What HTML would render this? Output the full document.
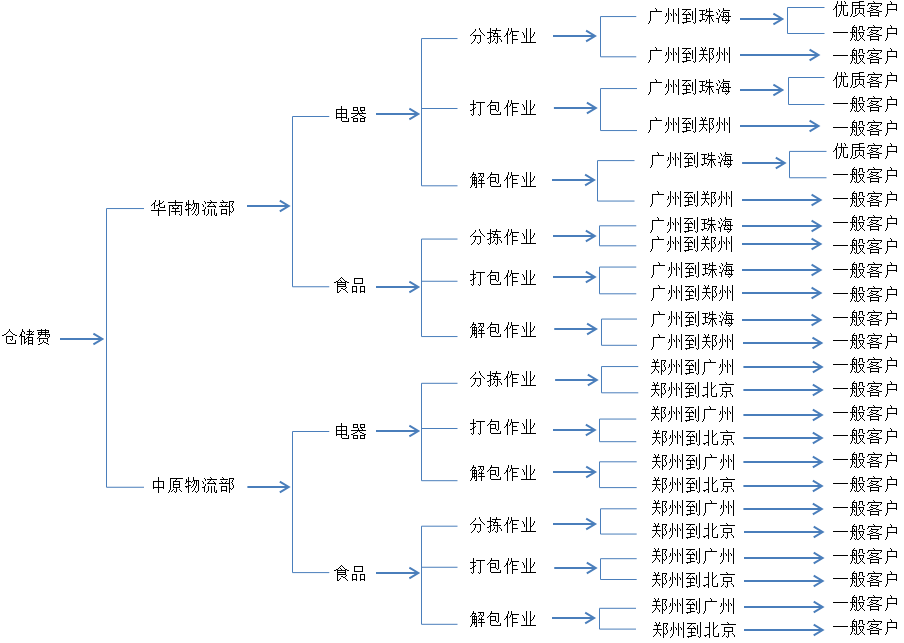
<!DOCTYPE html>
<html lang="zh"><head><meta charset="utf-8"><title>仓储费</title>
<style>html,body{margin:0;padding:0;background:#fff;font-family:"Liberation Sans",sans-serif}svg{display:block}</style></head><body>
<svg width="904" height="643" viewBox="0 0 904 643">
<defs>
<path id="u4e00" d="M0 9h15v1h-15z"/>
<path id="u4e1a" d="M5 2h1v1h-1zM9 2h1v1h-1zM5 3h1v1h-1zM9 3h1v1h-1zM5 4h1v1h-1zM9 4h1v1h-1zM5 5h1v1h-1zM9 5h1v1h-1zM1 6h1v1h-1zM5 6h1v1h-1zM9 6h1v1h-1zM13 6h1v1h-1zM2 7h1v1h-1zM5 7h1v1h-1zM9 7h1v1h-1zM13 7h1v1h-1zM2 8h1v1h-1zM5 8h1v1h-1zM9 8h1v1h-1zM12 8h1v1h-1zM3 9h1v1h-1zM5 9h1v1h-1zM9 9h1v1h-1zM12 9h1v1h-1zM3 10h1v1h-1zM5 10h1v1h-1zM9 10h1v1h-1zM11 10h1v1h-1zM3 11h1v1h-1zM5 11h1v1h-1zM9 11h2v1h-2zM5 12h1v1h-1zM9 12h1v1h-1zM5 13h1v1h-1zM9 13h1v1h-1zM5 14h1v1h-1zM9 14h1v1h-1zM5 15h1v1h-1zM9 15h1v1h-1zM0 16h15v1h-15z"/>
<path id="u4e2d" d="M7 2h1v1h-1zM7 3h1v1h-1zM7 4h1v1h-1zM7 5h1v1h-1zM2 6h11v1h-11zM2 7h1v1h-1zM7 7h1v1h-1zM12 7h1v1h-1zM2 8h1v1h-1zM7 8h1v1h-1zM12 8h1v1h-1zM2 9h1v1h-1zM7 9h1v1h-1zM12 9h1v1h-1zM2 10h1v1h-1zM7 10h1v1h-1zM12 10h1v1h-1zM2 11h1v1h-1zM7 11h1v1h-1zM12 11h1v1h-1zM2 12h11v1h-11zM2 13h1v1h-1zM7 13h1v1h-1zM12 13h1v1h-1zM7 14h1v1h-1zM7 15h1v1h-1zM7 16h1v1h-1zM7 17h1v1h-1z"/>
<path id="u4eac" d="M6 2h1v1h-1zM7 3h1v1h-1zM0 4h15v1h-15zM3 7h9v1h-9zM3 8h1v1h-1zM11 8h1v1h-1zM3 9h1v1h-1zM11 9h1v1h-1zM3 10h1v1h-1zM11 10h1v1h-1zM3 11h9v1h-9zM7 12h1v1h-1zM3 13h1v1h-1zM7 13h1v1h-1zM11 13h1v1h-1zM3 14h1v1h-1zM7 14h1v1h-1zM12 14h1v1h-1zM2 15h1v1h-1zM7 15h1v1h-1zM13 15h1v1h-1zM1 16h1v1h-1zM5 16h1v1h-1zM7 16h1v1h-1zM13 16h1v1h-1zM6 17h1v1h-1z"/>
<path id="u4ed3" d="M7 2h1v1h-1zM7 3h1v1h-1zM6 4h1v1h-1zM8 4h1v1h-1zM5 5h1v1h-1zM9 5h1v1h-1zM4 6h1v1h-1zM10 6h1v1h-1zM2 7h2v1h-2zM11 7h2v1h-2zM0 8h2v1h-2zM13 8h2v1h-2zM4 9h7v1h-7zM4 10h1v1h-1zM10 10h1v1h-1zM4 11h1v1h-1zM10 11h1v1h-1zM4 12h1v1h-1zM8 12h1v1h-1zM10 12h1v1h-1zM4 13h1v1h-1zM9 13h1v1h-1zM13 13h1v1h-1zM4 14h1v1h-1zM13 14h1v1h-1zM4 15h1v1h-1zM13 15h1v1h-1zM5 16h9v1h-9z"/>
<path id="u4f18" d="M4 2h1v1h-1zM8 2h1v1h-1zM11 2h1v1h-1zM4 3h1v1h-1zM8 3h1v1h-1zM12 3h1v1h-1zM4 4h1v1h-1zM8 4h1v1h-1zM12 4h1v1h-1zM3 5h1v1h-1zM8 5h1v1h-1zM3 6h1v1h-1zM5 6h10v1h-10zM2 7h2v1h-2zM8 7h1v1h-1zM10 7h1v1h-1zM2 8h2v1h-2zM8 8h1v1h-1zM10 8h1v1h-1zM1 9h1v1h-1zM3 9h1v1h-1zM8 9h1v1h-1zM10 9h1v1h-1zM0 10h1v1h-1zM3 10h1v1h-1zM8 10h1v1h-1zM10 10h1v1h-1zM3 11h1v1h-1zM8 11h1v1h-1zM10 11h1v1h-1zM3 12h1v1h-1zM7 12h1v1h-1zM10 12h1v1h-1zM3 13h1v1h-1zM7 13h1v1h-1zM10 13h1v1h-1zM14 13h1v1h-1zM3 14h1v1h-1zM7 14h1v1h-1zM10 14h1v1h-1zM14 14h1v1h-1zM3 15h1v1h-1zM6 15h1v1h-1zM10 15h1v1h-1zM14 15h1v1h-1zM3 16h1v1h-1zM6 16h1v1h-1zM11 16h4v1h-4zM3 17h1v1h-1zM5 17h1v1h-1z"/>
<path id="u4f5c" d="M4 2h1v1h-1zM7 2h1v1h-1zM4 3h1v1h-1zM7 3h1v1h-1zM4 4h1v1h-1zM7 4h1v1h-1zM3 5h1v1h-1zM7 5h8v1h-8zM3 6h1v1h-1zM6 6h1v1h-1zM8 6h1v1h-1zM2 7h2v1h-2zM6 7h1v1h-1zM8 7h1v1h-1zM2 8h2v1h-2zM5 8h1v1h-1zM8 8h1v1h-1zM1 9h1v1h-1zM3 9h1v1h-1zM8 9h5v1h-5zM0 10h1v1h-1zM3 10h1v1h-1zM8 10h1v1h-1zM3 11h1v1h-1zM8 11h1v1h-1zM3 12h1v1h-1zM8 12h1v1h-1zM3 13h1v1h-1zM8 13h6v1h-6zM3 14h1v1h-1zM8 14h1v1h-1zM3 15h1v1h-1zM8 15h1v1h-1zM3 16h1v1h-1zM8 16h1v1h-1zM3 17h1v1h-1zM8 17h1v1h-1z"/>
<path id="u50a8" d="M3 2h1v1h-1zM10 2h1v1h-1zM3 3h1v1h-1zM10 3h1v1h-1zM3 4h2v1h-2zM8 4h5v1h-5zM14 4h1v1h-1zM2 5h1v1h-1zM5 5h1v1h-1zM10 5h1v1h-1zM13 5h1v1h-1zM2 6h1v1h-1zM5 6h1v1h-1zM10 6h1v1h-1zM12 6h1v1h-1zM1 7h2v1h-2zM7 7h8v1h-8zM1 8h2v1h-2zM10 8h1v1h-1zM0 9h1v1h-1zM2 9h4v1h-4zM9 9h1v1h-1zM2 10h1v1h-1zM5 10h1v1h-1zM8 10h6v1h-6zM2 11h1v1h-1zM5 11h1v1h-1zM7 11h1v1h-1zM9 11h1v1h-1zM13 11h1v1h-1zM2 12h1v1h-1zM5 12h2v1h-2zM9 12h1v1h-1zM13 12h1v1h-1zM2 13h1v1h-1zM5 13h1v1h-1zM9 13h5v1h-5zM2 14h1v1h-1zM5 14h1v1h-1zM7 14h1v1h-1zM9 14h1v1h-1zM13 14h1v1h-1zM2 15h1v1h-1zM5 15h2v1h-2zM9 15h1v1h-1zM13 15h1v1h-1zM2 16h1v1h-1zM5 16h1v1h-1zM9 16h5v1h-5zM2 17h1v1h-1zM9 17h1v1h-1zM13 17h1v1h-1z"/>
<path id="u5206" d="M9 2h1v1h-1zM5 3h1v1h-1zM9 3h1v1h-1zM5 4h1v1h-1zM10 4h1v1h-1zM4 5h1v1h-1zM10 5h1v1h-1zM3 6h1v1h-1zM11 6h1v1h-1zM2 7h1v1h-1zM12 7h1v1h-1zM1 8h1v1h-1zM13 8h1v1h-1zM0 9h1v1h-1zM3 9h8v1h-8zM14 9h1v1h-1zM5 10h1v1h-1zM10 10h1v1h-1zM5 11h1v1h-1zM10 11h1v1h-1zM5 12h1v1h-1zM10 12h1v1h-1zM4 13h1v1h-1zM10 13h1v1h-1zM4 14h1v1h-1zM10 14h1v1h-1zM3 15h1v1h-1zM10 15h1v1h-1zM2 16h1v1h-1zM7 16h1v1h-1zM9 16h1v1h-1zM1 17h1v1h-1zM8 17h1v1h-1z"/>
<path id="u5230" d="M13 2h1v1h-1zM0 3h9v1h-9zM13 3h1v1h-1zM4 4h1v1h-1zM13 4h1v1h-1zM3 5h1v1h-1zM10 5h1v1h-1zM13 5h1v1h-1zM2 6h1v1h-1zM6 6h1v1h-1zM10 6h1v1h-1zM13 6h1v1h-1zM1 7h1v1h-1zM7 7h1v1h-1zM10 7h1v1h-1zM13 7h1v1h-1zM0 8h9v1h-9zM10 8h1v1h-1zM13 8h1v1h-1zM4 9h1v1h-1zM8 9h1v1h-1zM10 9h1v1h-1zM13 9h1v1h-1zM4 10h1v1h-1zM10 10h1v1h-1zM13 10h1v1h-1zM4 11h1v1h-1zM10 11h1v1h-1zM13 11h1v1h-1zM1 12h7v1h-7zM10 12h1v1h-1zM13 12h1v1h-1zM4 13h1v1h-1zM10 13h1v1h-1zM13 13h1v1h-1zM4 14h1v1h-1zM13 14h1v1h-1zM4 15h5v1h-5zM13 15h1v1h-1zM0 16h5v1h-5zM11 16h1v1h-1zM13 16h1v1h-1zM1 17h1v1h-1zM12 17h1v1h-1z"/>
<path id="u5305" d="M4 2h1v1h-1zM4 3h1v1h-1zM3 4h9v1h-9zM3 5h1v1h-1zM11 5h1v1h-1zM2 6h1v1h-1zM11 6h1v1h-1zM1 7h1v1h-1zM3 7h6v1h-6zM11 7h1v1h-1zM0 8h1v1h-1zM3 8h1v1h-1zM8 8h1v1h-1zM11 8h1v1h-1zM3 9h1v1h-1zM8 9h1v1h-1zM11 9h1v1h-1zM3 10h1v1h-1zM8 10h1v1h-1zM11 10h1v1h-1zM3 11h6v1h-6zM11 11h1v1h-1zM3 12h1v1h-1zM9 12h1v1h-1zM11 12h1v1h-1zM3 13h1v1h-1zM10 13h1v1h-1zM3 14h1v1h-1zM13 14h1v1h-1zM3 15h1v1h-1zM13 15h1v1h-1zM4 16h10v1h-10z"/>
<path id="u5317" d="M5 2h1v1h-1zM9 2h1v1h-1zM5 3h1v1h-1zM9 3h1v1h-1zM5 4h1v1h-1zM9 4h1v1h-1zM5 5h1v1h-1zM9 5h1v1h-1zM13 5h1v1h-1zM5 6h1v1h-1zM9 6h1v1h-1zM12 6h1v1h-1zM1 7h5v1h-5zM9 7h1v1h-1zM11 7h1v1h-1zM5 8h1v1h-1zM9 8h2v1h-2zM5 9h1v1h-1zM9 9h1v1h-1zM5 10h1v1h-1zM9 10h1v1h-1zM5 11h1v1h-1zM9 11h1v1h-1zM5 12h1v1h-1zM9 12h1v1h-1zM5 13h1v1h-1zM9 13h1v1h-1zM14 13h1v1h-1zM3 14h3v1h-3zM9 14h1v1h-1zM14 14h1v1h-1zM0 15h3v1h-3zM5 15h1v1h-1zM9 15h1v1h-1zM14 15h1v1h-1zM1 16h1v1h-1zM5 16h1v1h-1zM10 16h5v1h-5zM5 17h1v1h-1z"/>
<path id="u534e" d="M4 2h1v1h-1zM8 2h1v1h-1zM4 3h1v1h-1zM8 3h1v1h-1zM12 3h1v1h-1zM3 4h1v1h-1zM8 4h1v1h-1zM11 4h1v1h-1zM2 5h2v1h-2zM8 5h3v1h-3zM1 6h1v1h-1zM3 6h1v1h-1zM7 6h2v1h-2zM0 7h1v1h-1zM3 7h1v1h-1zM5 7h2v1h-2zM8 7h1v1h-1zM13 7h1v1h-1zM3 8h1v1h-1zM8 8h1v1h-1zM13 8h1v1h-1zM3 9h1v1h-1zM9 9h5v1h-5zM3 10h1v1h-1zM7 10h1v1h-1zM7 11h1v1h-1zM0 12h15v1h-15zM7 13h1v1h-1zM7 14h1v1h-1zM7 15h1v1h-1zM7 16h1v1h-1zM7 17h1v1h-1z"/>
<path id="u5357" d="M7 2h1v1h-1zM7 3h1v1h-1zM0 4h15v1h-15zM7 5h1v1h-1zM7 6h1v1h-1zM1 7h13v1h-13zM1 8h1v1h-1zM4 8h1v1h-1zM10 8h1v1h-1zM13 8h1v1h-1zM1 9h1v1h-1zM5 9h1v1h-1zM9 9h1v1h-1zM13 9h1v1h-1zM1 10h1v1h-1zM4 10h7v1h-7zM13 10h1v1h-1zM1 11h1v1h-1zM7 11h1v1h-1zM13 11h1v1h-1zM1 12h1v1h-1zM7 12h1v1h-1zM13 12h1v1h-1zM1 13h1v1h-1zM3 13h9v1h-9zM13 13h1v1h-1zM1 14h1v1h-1zM7 14h1v1h-1zM13 14h1v1h-1zM1 15h1v1h-1zM7 15h1v1h-1zM13 15h1v1h-1zM1 16h1v1h-1zM7 16h1v1h-1zM11 16h1v1h-1zM13 16h1v1h-1zM1 17h1v1h-1zM12 17h1v1h-1z"/>
<path id="u539f" d="M2 3h13v1h-13zM2 4h1v1h-1zM8 4h1v1h-1zM2 5h1v1h-1zM7 5h1v1h-1zM2 6h1v1h-1zM5 6h7v1h-7zM2 7h1v1h-1zM5 7h1v1h-1zM11 7h1v1h-1zM2 8h1v1h-1zM5 8h1v1h-1zM11 8h1v1h-1zM2 9h1v1h-1zM5 9h7v1h-7zM2 10h1v1h-1zM5 10h1v1h-1zM11 10h1v1h-1zM2 11h1v1h-1zM5 11h1v1h-1zM11 11h1v1h-1zM2 12h1v1h-1zM5 12h7v1h-7zM2 13h1v1h-1zM8 13h1v1h-1zM2 14h1v1h-1zM5 14h1v1h-1zM8 14h1v1h-1zM11 14h1v1h-1zM1 15h1v1h-1zM4 15h1v1h-1zM8 15h1v1h-1zM12 15h1v1h-1zM1 16h1v1h-1zM3 16h1v1h-1zM6 16h1v1h-1zM8 16h1v1h-1zM13 16h1v1h-1zM0 17h1v1h-1zM7 17h1v1h-1z"/>
<path id="u54c1" d="M3 3h9v1h-9zM3 4h1v1h-1zM11 4h1v1h-1zM3 5h1v1h-1zM11 5h1v1h-1zM3 6h1v1h-1zM11 6h1v1h-1zM3 7h1v1h-1zM11 7h1v1h-1zM3 8h9v1h-9zM1 11h5v1h-5zM9 11h5v1h-5zM1 12h1v1h-1zM5 12h1v1h-1zM9 12h1v1h-1zM13 12h1v1h-1zM1 13h1v1h-1zM5 13h1v1h-1zM9 13h1v1h-1zM13 13h1v1h-1zM1 14h1v1h-1zM5 14h1v1h-1zM9 14h1v1h-1zM13 14h1v1h-1zM1 15h1v1h-1zM5 15h1v1h-1zM9 15h1v1h-1zM13 15h1v1h-1zM1 16h5v1h-5zM9 16h5v1h-5zM1 17h1v1h-1zM5 17h1v1h-1zM9 17h1v1h-1zM13 17h1v1h-1z"/>
<path id="u5668" d="M2 3h5v1h-5zM9 3h5v1h-5zM2 4h1v1h-1zM6 4h1v1h-1zM9 4h1v1h-1zM13 4h1v1h-1zM2 5h1v1h-1zM6 5h1v1h-1zM9 5h1v1h-1zM13 5h1v1h-1zM2 6h5v1h-5zM9 6h5v1h-5zM7 7h1v1h-1zM10 7h1v1h-1zM7 8h1v1h-1zM11 8h1v1h-1zM0 9h15v1h-15zM6 10h1v1h-1zM8 10h1v1h-1zM4 11h2v1h-2zM9 11h2v1h-2zM2 12h2v1h-2zM11 12h2v1h-2zM0 13h2v1h-2zM13 13h2v1h-2zM2 14h5v1h-5zM9 14h5v1h-5zM2 15h1v1h-1zM6 15h1v1h-1zM9 15h1v1h-1zM13 15h1v1h-1zM2 16h1v1h-1zM6 16h1v1h-1zM9 16h1v1h-1zM13 16h1v1h-1zM2 17h5v1h-5zM9 17h5v1h-5z"/>
<path id="u5ba2" d="M6 2h1v1h-1zM7 3h1v1h-1zM1 4h14v1h-14zM1 5h1v1h-1zM14 5h1v1h-1zM0 6h1v1h-1zM4 6h1v1h-1zM13 6h1v1h-1zM4 7h8v1h-8zM3 8h1v1h-1zM10 8h1v1h-1zM2 9h1v1h-1zM4 9h2v1h-2zM9 9h1v1h-1zM6 10h3v1h-3zM3 11h3v1h-3zM9 11h3v1h-3zM0 12h3v1h-3zM12 12h3v1h-3zM3 13h9v1h-9zM3 14h1v1h-1zM11 14h1v1h-1zM3 15h1v1h-1zM11 15h1v1h-1zM3 16h9v1h-9zM3 17h1v1h-1zM11 17h1v1h-1z"/>
<path id="u5dde" d="M3 2h1v1h-1zM13 2h1v1h-1zM3 3h1v1h-1zM8 3h1v1h-1zM13 3h1v1h-1zM3 4h1v1h-1zM8 4h1v1h-1zM13 4h1v1h-1zM3 5h1v1h-1zM8 5h1v1h-1zM13 5h1v1h-1zM3 6h1v1h-1zM8 6h1v1h-1zM13 6h1v1h-1zM1 7h1v1h-1zM3 7h1v1h-1zM5 7h1v1h-1zM8 7h1v1h-1zM10 7h1v1h-1zM13 7h1v1h-1zM1 8h1v1h-1zM3 8h1v1h-1zM6 8h1v1h-1zM8 8h1v1h-1zM11 8h1v1h-1zM13 8h1v1h-1zM1 9h1v1h-1zM3 9h1v1h-1zM6 9h1v1h-1zM8 9h1v1h-1zM11 9h1v1h-1zM13 9h1v1h-1zM0 10h1v1h-1zM3 10h1v1h-1zM8 10h1v1h-1zM13 10h1v1h-1zM3 11h1v1h-1zM8 11h1v1h-1zM13 11h1v1h-1zM3 12h1v1h-1zM8 12h1v1h-1zM13 12h1v1h-1zM3 13h1v1h-1zM8 13h1v1h-1zM13 13h1v1h-1zM2 14h1v1h-1zM8 14h1v1h-1zM13 14h1v1h-1zM2 15h1v1h-1zM8 15h1v1h-1zM13 15h1v1h-1zM1 16h1v1h-1zM13 16h1v1h-1zM0 17h1v1h-1zM13 17h1v1h-1z"/>
<path id="u5e7f" d="M7 2h1v1h-1zM8 3h1v1h-1zM8 4h1v1h-1zM2 5h12v1h-12zM2 6h1v1h-1zM2 7h1v1h-1zM2 8h1v1h-1zM2 9h1v1h-1zM2 10h1v1h-1zM2 11h1v1h-1zM2 12h1v1h-1zM2 13h1v1h-1zM2 14h1v1h-1zM1 15h1v1h-1zM1 16h1v1h-1zM0 17h1v1h-1z"/>
<path id="u6237" d="M6 2h1v1h-1zM7 3h1v1h-1zM7 4h1v1h-1zM3 5h10v1h-10zM3 6h1v1h-1zM12 6h1v1h-1zM3 7h1v1h-1zM12 7h1v1h-1zM3 8h1v1h-1zM12 8h1v1h-1zM3 9h1v1h-1zM12 9h1v1h-1zM3 10h10v1h-10zM3 11h1v1h-1zM12 11h1v1h-1zM3 12h1v1h-1zM3 13h1v1h-1zM3 14h1v1h-1zM2 15h1v1h-1zM2 16h1v1h-1zM1 17h1v1h-1z"/>
<path id="u6253" d="M3 2h1v1h-1zM3 3h1v1h-1zM3 4h1v1h-1zM6 4h9v1h-9zM3 5h1v1h-1zM10 5h1v1h-1zM0 6h6v1h-6zM10 6h1v1h-1zM3 7h1v1h-1zM10 7h1v1h-1zM3 8h1v1h-1zM10 8h1v1h-1zM3 9h1v1h-1zM5 9h1v1h-1zM10 9h1v1h-1zM3 10h2v1h-2zM10 10h1v1h-1zM2 11h2v1h-2zM10 11h1v1h-1zM0 12h2v1h-2zM3 12h1v1h-1zM10 12h1v1h-1zM3 13h1v1h-1zM10 13h1v1h-1zM3 14h1v1h-1zM10 14h1v1h-1zM3 15h1v1h-1zM10 15h1v1h-1zM1 16h1v1h-1zM3 16h1v1h-1zM8 16h1v1h-1zM10 16h1v1h-1zM2 17h1v1h-1zM9 17h1v1h-1z"/>
<path id="u62e3" d="M3 2h1v1h-1zM9 2h1v1h-1zM3 3h1v1h-1zM9 3h1v1h-1zM3 4h1v1h-1zM5 4h9v1h-9zM3 5h1v1h-1zM8 5h1v1h-1zM0 6h6v1h-6zM8 6h1v1h-1zM3 7h1v1h-1zM6 7h5v1h-5zM3 8h1v1h-1zM7 8h1v1h-1zM10 8h1v1h-1zM3 9h1v1h-1zM6 9h1v1h-1zM10 9h1v1h-1zM3 10h2v1h-2zM6 10h8v1h-8zM2 11h2v1h-2zM10 11h1v1h-1zM0 12h2v1h-2zM3 12h1v1h-1zM7 12h1v1h-1zM10 12h1v1h-1zM12 12h1v1h-1zM3 13h1v1h-1zM7 13h1v1h-1zM10 13h1v1h-1zM13 13h1v1h-1zM3 14h1v1h-1zM6 14h1v1h-1zM10 14h1v1h-1zM14 14h1v1h-1zM3 15h1v1h-1zM5 15h1v1h-1zM10 15h1v1h-1zM14 15h1v1h-1zM1 16h1v1h-1zM3 16h1v1h-1zM8 16h1v1h-1zM10 16h1v1h-1zM2 17h1v1h-1zM9 17h1v1h-1z"/>
<path id="u6d41" d="M8 2h1v1h-1zM2 3h1v1h-1zM9 3h1v1h-1zM3 4h1v1h-1zM5 4h10v1h-10zM3 5h1v1h-1zM8 5h1v1h-1zM0 6h1v1h-1zM7 6h1v1h-1zM11 6h1v1h-1zM1 7h1v1h-1zM6 7h1v1h-1zM12 7h1v1h-1zM1 8h1v1h-1zM5 8h9v1h-9zM3 9h1v1h-1zM13 9h1v1h-1zM3 10h1v1h-1zM2 11h1v1h-1zM6 11h1v1h-1zM9 11h1v1h-1zM12 11h1v1h-1zM0 12h3v1h-3zM6 12h1v1h-1zM9 12h1v1h-1zM12 12h1v1h-1zM2 13h1v1h-1zM6 13h1v1h-1zM9 13h1v1h-1zM12 13h1v1h-1zM2 14h1v1h-1zM6 14h1v1h-1zM9 14h1v1h-1zM12 14h1v1h-1zM2 15h1v1h-1zM6 15h1v1h-1zM9 15h1v1h-1zM12 15h1v1h-1zM14 15h1v1h-1zM2 16h1v1h-1zM5 16h1v1h-1zM9 16h1v1h-1zM12 16h1v1h-1zM14 16h1v1h-1zM4 17h1v1h-1zM9 17h1v1h-1zM13 17h2v1h-2z"/>
<path id="u6d77" d="M7 2h1v1h-1zM2 3h1v1h-1zM7 3h1v1h-1zM3 4h1v1h-1zM7 4h7v1h-7zM3 5h1v1h-1zM6 5h1v1h-1zM0 6h1v1h-1zM5 6h1v1h-1zM7 6h6v1h-6zM1 7h1v1h-1zM7 7h1v1h-1zM12 7h1v1h-1zM1 8h1v1h-1zM4 8h1v1h-1zM7 8h1v1h-1zM9 8h1v1h-1zM12 8h1v1h-1zM4 9h1v1h-1zM7 9h1v1h-1zM10 9h1v1h-1zM12 9h1v1h-1zM3 10h1v1h-1zM5 10h10v1h-10zM3 11h1v1h-1zM7 11h1v1h-1zM12 11h1v1h-1zM0 12h3v1h-3zM6 12h1v1h-1zM9 12h1v1h-1zM12 12h1v1h-1zM2 13h1v1h-1zM6 13h1v1h-1zM10 13h1v1h-1zM12 13h1v1h-1zM2 14h1v1h-1zM6 14h8v1h-8zM2 15h1v1h-1zM12 15h1v1h-1zM2 16h1v1h-1zM9 16h1v1h-1zM11 16h1v1h-1zM10 17h1v1h-1z"/>
<path id="u7269" d="M3 2h1v1h-1zM8 2h1v1h-1zM3 3h1v1h-1zM8 3h1v1h-1zM1 4h1v1h-1zM3 4h1v1h-1zM8 4h1v1h-1zM1 5h1v1h-1zM3 5h1v1h-1zM8 5h6v1h-6zM1 6h5v1h-5zM7 6h1v1h-1zM9 6h1v1h-1zM11 6h1v1h-1zM13 6h1v1h-1zM1 7h1v1h-1zM3 7h1v1h-1zM6 7h1v1h-1zM9 7h1v1h-1zM11 7h1v1h-1zM13 7h1v1h-1zM0 8h1v1h-1zM3 8h1v1h-1zM9 8h1v1h-1zM11 8h1v1h-1zM13 8h1v1h-1zM3 9h1v1h-1zM8 9h1v1h-1zM11 9h1v1h-1zM13 9h1v1h-1zM3 10h3v1h-3zM8 10h1v1h-1zM11 10h1v1h-1zM13 10h1v1h-1zM0 11h4v1h-4zM7 11h1v1h-1zM10 11h1v1h-1zM13 11h1v1h-1zM1 12h1v1h-1zM3 12h1v1h-1zM6 12h1v1h-1zM10 12h1v1h-1zM13 12h1v1h-1zM3 13h1v1h-1zM9 13h1v1h-1zM13 13h1v1h-1zM3 14h1v1h-1zM9 14h1v1h-1zM13 14h1v1h-1zM3 15h1v1h-1zM8 15h1v1h-1zM13 15h1v1h-1zM3 16h1v1h-1zM7 16h1v1h-1zM10 16h1v1h-1zM12 16h1v1h-1zM3 17h1v1h-1zM11 17h1v1h-1z"/>
<path id="u73e0" d="M10 2h1v1h-1zM7 3h1v1h-1zM10 3h1v1h-1zM0 4h6v1h-6zM7 4h1v1h-1zM10 4h1v1h-1zM3 5h1v1h-1zM7 5h7v1h-7zM3 6h1v1h-1zM7 6h1v1h-1zM10 6h1v1h-1zM3 7h1v1h-1zM6 7h1v1h-1zM10 7h1v1h-1zM1 8h5v1h-5zM10 8h1v1h-1zM3 9h1v1h-1zM6 9h9v1h-9zM3 10h1v1h-1zM9 10h3v1h-3zM3 11h1v1h-1zM8 11h1v1h-1zM10 11h1v1h-1zM12 11h1v1h-1zM3 12h1v1h-1zM8 12h1v1h-1zM10 12h1v1h-1zM12 12h1v1h-1zM3 13h3v1h-3zM7 13h1v1h-1zM10 13h1v1h-1zM13 13h1v1h-1zM0 14h3v1h-3zM7 14h1v1h-1zM10 14h1v1h-1zM13 14h1v1h-1zM1 15h1v1h-1zM6 15h1v1h-1zM10 15h1v1h-1zM14 15h1v1h-1zM10 16h1v1h-1zM10 17h1v1h-1z"/>
<path id="u7535" d="M7 2h1v1h-1zM7 3h1v1h-1zM7 4h1v1h-1zM2 5h11v1h-11zM2 6h1v1h-1zM7 6h1v1h-1zM12 6h1v1h-1zM2 7h1v1h-1zM7 7h1v1h-1zM12 7h1v1h-1zM2 8h1v1h-1zM7 8h1v1h-1zM12 8h1v1h-1zM2 9h11v1h-11zM2 10h1v1h-1zM7 10h1v1h-1zM12 10h1v1h-1zM2 11h1v1h-1zM7 11h1v1h-1zM12 11h1v1h-1zM2 12h1v1h-1zM7 12h1v1h-1zM12 12h1v1h-1zM2 13h11v1h-11zM2 14h1v1h-1zM7 14h1v1h-1zM12 14h1v1h-1zM14 14h1v1h-1zM7 15h1v1h-1zM14 15h1v1h-1zM7 16h1v1h-1zM14 16h1v1h-1zM8 17h7v1h-7z"/>
<path id="u822c" d="M4 2h1v1h-1zM3 3h1v1h-1zM9 3h4v1h-4zM2 4h5v1h-5zM9 4h1v1h-1zM12 4h1v1h-1zM2 5h1v1h-1zM6 5h1v1h-1zM9 5h1v1h-1zM12 5h1v1h-1zM2 6h2v1h-2zM6 6h1v1h-1zM9 6h1v1h-1zM12 6h1v1h-1zM2 7h1v1h-1zM4 7h1v1h-1zM6 7h1v1h-1zM8 7h1v1h-1zM13 7h2v1h-2zM2 8h1v1h-1zM4 8h1v1h-1zM6 8h1v1h-1zM0 9h7v1h-7zM8 9h6v1h-6zM2 10h1v1h-1zM6 10h1v1h-1zM9 10h1v1h-1zM13 10h1v1h-1zM2 11h2v1h-2zM6 11h1v1h-1zM9 11h1v1h-1zM13 11h1v1h-1zM2 12h1v1h-1zM4 12h1v1h-1zM6 12h1v1h-1zM10 12h1v1h-1zM12 12h1v1h-1zM2 13h1v1h-1zM4 13h1v1h-1zM6 13h1v1h-1zM10 13h1v1h-1zM12 13h1v1h-1zM2 14h1v1h-1zM6 14h1v1h-1zM11 14h1v1h-1zM1 15h1v1h-1zM6 15h1v1h-1zM10 15h1v1h-1zM12 15h1v1h-1zM1 16h1v1h-1zM4 16h1v1h-1zM6 16h1v1h-1zM9 16h1v1h-1zM13 16h1v1h-1zM0 17h1v1h-1zM5 17h1v1h-1zM7 17h2v1h-2zM14 17h1v1h-1z"/>
<path id="u89e3" d="M3 2h1v1h-1zM3 3h1v1h-1zM8 3h6v1h-6zM2 4h4v1h-4zM10 4h1v1h-1zM13 4h1v1h-1zM2 5h1v1h-1zM5 5h1v1h-1zM10 5h1v1h-1zM13 5h1v1h-1zM1 6h1v1h-1zM4 6h1v1h-1zM9 6h1v1h-1zM11 6h1v1h-1zM13 6h1v1h-1zM0 7h1v1h-1zM2 7h5v1h-5zM8 7h1v1h-1zM12 7h1v1h-1zM2 8h1v1h-1zM4 8h1v1h-1zM6 8h1v1h-1zM11 8h1v1h-1zM2 9h1v1h-1zM4 9h1v1h-1zM6 9h1v1h-1zM9 9h1v1h-1zM11 9h1v1h-1zM2 10h5v1h-5zM9 10h5v1h-5zM2 11h1v1h-1zM4 11h1v1h-1zM6 11h1v1h-1zM8 11h1v1h-1zM11 11h1v1h-1zM2 12h1v1h-1zM4 12h1v1h-1zM6 12h1v1h-1zM11 12h1v1h-1zM2 13h5v1h-5zM8 13h7v1h-7zM2 14h1v1h-1zM4 14h1v1h-1zM6 14h1v1h-1zM11 14h1v1h-1zM1 15h1v1h-1zM4 15h1v1h-1zM6 15h1v1h-1zM11 15h1v1h-1zM1 16h1v1h-1zM6 16h1v1h-1zM11 16h1v1h-1zM0 17h1v1h-1zM5 17h2v1h-2zM11 17h1v1h-1z"/>
<path id="u8d28" d="M9 2h5v1h-5zM2 3h8v1h-8zM2 4h1v1h-1zM9 4h1v1h-1zM2 5h1v1h-1zM9 5h1v1h-1zM2 6h13v1h-13zM2 7h1v1h-1zM9 7h1v1h-1zM2 8h1v1h-1zM9 8h1v1h-1zM2 9h1v1h-1zM5 9h9v1h-9zM2 10h1v1h-1zM5 10h1v1h-1zM13 10h1v1h-1zM2 11h1v1h-1zM5 11h1v1h-1zM9 11h1v1h-1zM13 11h1v1h-1zM2 12h1v1h-1zM5 12h1v1h-1zM9 12h1v1h-1zM13 12h1v1h-1zM2 13h1v1h-1zM5 13h1v1h-1zM9 13h1v1h-1zM13 13h1v1h-1zM2 14h1v1h-1zM5 14h1v1h-1zM8 14h1v1h-1zM10 14h2v1h-2zM13 14h1v1h-1zM1 15h1v1h-1zM7 15h1v1h-1zM12 15h1v1h-1zM1 16h1v1h-1zM5 16h2v1h-2zM13 16h1v1h-1zM0 17h1v1h-1zM3 17h2v1h-2zM14 17h1v1h-1z"/>
<path id="u8d39" d="M5 2h1v1h-1zM9 2h1v1h-1zM1 3h12v1h-12zM5 4h1v1h-1zM9 4h1v1h-1zM12 4h1v1h-1zM2 5h11v1h-11zM2 6h1v1h-1zM5 6h1v1h-1zM9 6h1v1h-1zM2 7h12v1h-12zM4 8h1v1h-1zM9 8h1v1h-1zM13 8h1v1h-1zM3 9h1v1h-1zM9 9h1v1h-1zM11 9h1v1h-1zM13 9h1v1h-1zM2 10h1v1h-1zM12 10h1v1h-1zM1 11h1v1h-1zM3 11h9v1h-9zM3 12h1v1h-1zM11 12h1v1h-1zM3 13h1v1h-1zM7 13h1v1h-1zM11 13h1v1h-1zM3 14h1v1h-1zM7 14h1v1h-1zM11 14h1v1h-1zM6 15h1v1h-1zM8 15h2v1h-2zM4 16h2v1h-2zM10 16h2v1h-2zM2 17h2v1h-2zM12 17h1v1h-1z"/>
<path id="u90d1" d="M2 2h1v1h-1zM6 2h1v1h-1zM3 3h1v1h-1zM6 3h1v1h-1zM10 3h5v1h-5zM3 4h1v1h-1zM5 4h1v1h-1zM10 4h1v1h-1zM14 4h1v1h-1zM1 5h7v1h-7zM10 5h1v1h-1zM13 5h1v1h-1zM4 6h1v1h-1zM10 6h1v1h-1zM13 6h1v1h-1zM4 7h1v1h-1zM10 7h1v1h-1zM12 7h1v1h-1zM4 8h1v1h-1zM10 8h1v1h-1zM13 8h1v1h-1zM0 9h9v1h-9zM10 9h1v1h-1zM13 9h1v1h-1zM4 10h1v1h-1zM10 10h1v1h-1zM14 10h1v1h-1zM4 11h1v1h-1zM10 11h1v1h-1zM14 11h1v1h-1zM3 12h1v1h-1zM5 12h1v1h-1zM10 12h1v1h-1zM14 12h1v1h-1zM3 13h1v1h-1zM6 13h1v1h-1zM10 13h2v1h-2zM13 13h1v1h-1zM2 14h1v1h-1zM7 14h1v1h-1zM10 14h1v1h-1zM12 14h1v1h-1zM1 15h1v1h-1zM7 15h1v1h-1zM10 15h1v1h-1zM0 16h1v1h-1zM10 16h1v1h-1zM10 17h1v1h-1z"/>
<path id="u90e8" d="M3 2h1v1h-1zM4 3h1v1h-1zM10 3h5v1h-5zM1 4h8v1h-8zM10 4h1v1h-1zM14 4h1v1h-1zM10 5h1v1h-1zM13 5h1v1h-1zM2 6h1v1h-1zM7 6h1v1h-1zM10 6h1v1h-1zM13 6h1v1h-1zM3 7h1v1h-1zM6 7h1v1h-1zM10 7h1v1h-1zM12 7h1v1h-1zM0 8h11v1h-11zM13 8h1v1h-1zM10 9h1v1h-1zM13 9h1v1h-1zM10 10h1v1h-1zM14 10h1v1h-1zM2 11h6v1h-6zM10 11h1v1h-1zM14 11h1v1h-1zM2 12h1v1h-1zM7 12h1v1h-1zM10 12h1v1h-1zM14 12h1v1h-1zM2 13h1v1h-1zM7 13h1v1h-1zM10 13h2v1h-2zM13 13h1v1h-1zM2 14h1v1h-1zM7 14h1v1h-1zM10 14h1v1h-1zM12 14h1v1h-1zM2 15h6v1h-6zM10 15h1v1h-1zM2 16h1v1h-1zM7 16h1v1h-1zM10 16h1v1h-1zM10 17h1v1h-1z"/>
<path id="u98df" d="M7 2h1v1h-1zM6 3h1v1h-1zM8 3h1v1h-1zM5 4h1v1h-1zM9 4h1v1h-1zM4 5h1v1h-1zM6 5h1v1h-1zM10 5h1v1h-1zM2 6h2v1h-2zM7 6h1v1h-1zM11 6h2v1h-2zM0 7h2v1h-2zM3 7h9v1h-9zM13 7h2v1h-2zM3 8h1v1h-1zM11 8h1v1h-1zM3 9h9v1h-9zM3 10h1v1h-1zM11 10h1v1h-1zM3 11h9v1h-9zM3 12h1v1h-1zM12 12h1v1h-1zM3 13h1v1h-1zM7 13h2v1h-2zM11 13h1v1h-1zM3 14h1v1h-1zM9 14h2v1h-2zM3 15h1v1h-1zM6 15h1v1h-1zM11 15h1v1h-1zM3 16h1v1h-1zM5 16h1v1h-1zM12 16h1v1h-1zM3 17h2v1h-2zM13 17h1v1h-1z"/>
</defs>
<rect width="904" height="643" fill="#fff"/>
<g fill="none" stroke="#4a7ebb" stroke-width="1">
<path d="M144 208.55H106.5V487.25H144"/>
<path d="M329.25 116.5H292.5V286.75H329.25"/>
<path d="M329.25 431.5H292.5V572.6H329.25"/>
<path d="M457.5 38.55H421.5V185.8H457.5M421.5 108.5H457.5"/>
<path d="M457.5 239.05H421.5V336.55H457.5M421.5 281.25H457.5"/>
<path d="M457.5 383.3H421.5V480.7H457.5M421.5 428.5H457.5"/>
<path d="M457.5 526.2H421.5V624.3H457.5M421.5 567.25H457.5"/>
<path d="M636.25 16.55H600.5V56.8H636.25"/>
<path d="M637 88.55H600.5V130.55H637"/>
<path d="M634.5 160.6H597.5V201.05H634.5"/>
<path d="M636.25 225.8H599.5V245.8H636.25"/>
<path d="M636.25 267.05H599.5V293.8H636.25"/>
<path d="M637 319.05H601.5V345.3H637"/>
<path d="M638.25 366.55H601.5V392.8H638.25"/>
<path d="M636.25 419.05H599.5V441.7H636.25"/>
<path d="M636.7 461.8H599.5V487.6H636.7"/>
<path d="M636.7 508.8H600.5V534.05H636.7"/>
<path d="M636.7 558.7H600.5V579.5H636.7"/>
<path d="M636 608.3H599.5V629.1H636"/>
<path d="M824.5 7.5H787.5V33.5H824.5"/>
<path d="M824.5 77.5H788.5V104.5H824.5"/>
<path d="M826.5 151.4H789.5V177.75H826.5"/>
</g>
<g fill="none" stroke="#4a7ebb" stroke-width="2">
<path d="M60 339H102.2M93.4 333.7L102.3 339L93.4 344.3"/>
<path d="M247 206H288.6M279.8 200.7L288.7 206L279.8 211.3"/>
<path d="M247.4 487H288.6M279.8 481.7L288.7 487L279.8 492.3"/>
<path d="M376 114H418.15M409.35 108.7L418.25 114L409.35 119.3"/>
<path d="M376 287H418.15M409.35 281.7L418.25 287L409.35 292.3"/>
<path d="M376 431H418.15M409.35 425.7L418.25 431L409.35 436.3"/>
<path d="M376 573H418.15M409.35 567.7L418.25 573L409.35 578.3"/>
<path d="M553 36H594.9M586.1 30.7L595 36L586.1 41.3"/>
<path d="M553.9 108H595.7M586.9 102.7L595.8 108L586.9 113.3"/>
<path d="M552 180H593.9M585.1 174.7L594 180L585.1 185.3"/>
<path d="M553 236H594.65M585.85 230.7L594.75 236L585.85 241.3"/>
<path d="M553 277H594.65M585.85 271.7L594.75 277L585.85 282.3"/>
<path d="M554.25 329H595.9M587.1 323.7L596 329L587.1 334.3"/>
<path d="M555.1 380H596.65M587.85 374.7L596.75 380L587.85 385.3"/>
<path d="M553 430H594.65M585.85 424.7L594.75 430L585.85 435.3"/>
<path d="M553 472H595M586.2 466.7L595.1 472L586.2 477.3"/>
<path d="M553 524H595M586.2 518.7L595.1 524L586.2 529.3"/>
<path d="M554.25 568H595.6M586.8 562.7L595.7 568L586.8 573.3"/>
<path d="M552 618H594M585.2 612.7L594.1 618L585.2 623.3"/>
<path d="M740 19H782.2M773.4 13.7L782.3 19L773.4 24.3"/>
<path d="M740 55H818.4M809.6 49.7L818.5 55L809.6 60.3"/>
<path d="M740 90H782.2M773.4 84.7L782.3 90L773.4 95.3"/>
<path d="M740 126H818.4M809.6 120.7L818.5 126L809.6 131.3"/>
<path d="M742.1 163H784.6M775.8 157.7L784.7 163L775.8 168.3"/>
<path d="M742 200H820.4M811.6 194.7L820.5 200L811.6 205.3"/>
<path d="M742 226H820.4M811.6 220.7L820.5 226L811.6 231.3"/>
<path d="M742 244H820.4M811.6 238.7L820.5 244L811.6 249.3"/>
<path d="M742 270H820.4M811.6 264.7L820.5 270L811.6 275.3"/>
<path d="M742 293H820.4M811.6 287.7L820.5 293L811.6 298.3"/>
<path d="M742 320H820.4M811.6 314.7L820.5 320L811.6 325.3"/>
<path d="M743 343H821.3M812.5 337.7L821.4 343L812.5 348.3"/>
<path d="M743.4 367H821.65M812.85 361.7L821.75 367L812.85 372.3"/>
<path d="M743.4 390H821.65M812.85 384.7L821.75 390L812.85 395.3"/>
<path d="M743.4 415H821.65M812.85 409.7L821.75 415L812.85 420.3"/>
<path d="M743.4 438H821.65M812.85 432.7L821.75 438L812.85 443.3"/>
<path d="M743.4 462H821.65M812.85 456.7L821.75 462L812.85 467.3"/>
<path d="M743.4 486H821.65M812.85 480.7L821.75 486L812.85 491.3"/>
<path d="M743.4 509H821.65M812.85 503.7L821.75 509L812.85 514.3"/>
<path d="M744 532H822.5M813.7 526.7L822.6 532L813.7 537.3"/>
<path d="M744 558H822.5M813.7 552.7L822.6 558L813.7 563.3"/>
<path d="M744 581H822.5M813.7 575.7L822.6 581L813.7 586.3"/>
<path d="M744 607H822.5M813.7 601.7L822.6 607L813.7 612.3"/>
<path d="M744 630H822.5M813.7 624.7L822.6 630L813.7 635.3"/>
</g>
<g fill="#000">
<g transform="translate(2 327)"><use href="#u4ed3"/><use href="#u50a8" x="17"/><use href="#u8d39" x="34"/></g>
<g transform="translate(151 198)"><use href="#u534e"/><use href="#u5357" x="17"/><use href="#u7269" x="34"/><use href="#u6d41" x="51"/><use href="#u90e8" x="68"/></g>
<g transform="translate(151 475)"><use href="#u4e2d"/><use href="#u539f" x="17"/><use href="#u7269" x="34"/><use href="#u6d41" x="51"/><use href="#u90e8" x="68"/></g>
<g transform="translate(334 104)"><use href="#u7535"/><use href="#u5668" x="17"/></g>
<g transform="translate(334 275)"><use href="#u98df"/><use href="#u54c1" x="17"/></g>
<g transform="translate(334 421)"><use href="#u7535"/><use href="#u5668" x="17"/></g>
<g transform="translate(334 563)"><use href="#u98df"/><use href="#u54c1" x="17"/></g>
<g transform="translate(470 26)"><use href="#u5206"/><use href="#u62e3" x="17"/><use href="#u4f5c" x="34"/><use href="#u4e1a" x="51"/></g>
<g transform="translate(470 98)"><use href="#u6253"/><use href="#u5305" x="17"/><use href="#u4f5c" x="34"/><use href="#u4e1a" x="51"/></g>
<g transform="translate(470 170)"><use href="#u89e3"/><use href="#u5305" x="17"/><use href="#u4f5c" x="34"/><use href="#u4e1a" x="51"/></g>
<g transform="translate(470 227)"><use href="#u5206"/><use href="#u62e3" x="17"/><use href="#u4f5c" x="34"/><use href="#u4e1a" x="51"/></g>
<g transform="translate(470 268)"><use href="#u6253"/><use href="#u5305" x="17"/><use href="#u4f5c" x="34"/><use href="#u4e1a" x="51"/></g>
<g transform="translate(470 320)"><use href="#u89e3"/><use href="#u5305" x="17"/><use href="#u4f5c" x="34"/><use href="#u4e1a" x="51"/></g>
<g transform="translate(470 369)"><use href="#u5206"/><use href="#u62e3" x="17"/><use href="#u4f5c" x="34"/><use href="#u4e1a" x="51"/></g>
<g transform="translate(470 417)"><use href="#u6253"/><use href="#u5305" x="17"/><use href="#u4f5c" x="34"/><use href="#u4e1a" x="51"/></g>
<g transform="translate(470 463)"><use href="#u89e3"/><use href="#u5305" x="17"/><use href="#u4f5c" x="34"/><use href="#u4e1a" x="51"/></g>
<g transform="translate(470 515)"><use href="#u5206"/><use href="#u62e3" x="17"/><use href="#u4f5c" x="34"/><use href="#u4e1a" x="51"/></g>
<g transform="translate(470 556)"><use href="#u6253"/><use href="#u5305" x="17"/><use href="#u4f5c" x="34"/><use href="#u4e1a" x="51"/></g>
<g transform="translate(470 609)"><use href="#u89e3"/><use href="#u5305" x="17"/><use href="#u4f5c" x="34"/><use href="#u4e1a" x="51"/></g>
<g transform="translate(648 6)"><use href="#u5e7f"/><use href="#u5dde" x="17"/><use href="#u5230" x="34"/><use href="#u73e0" x="51"/><use href="#u6d77" x="68"/></g>
<g transform="translate(648 45)"><use href="#u5e7f"/><use href="#u5dde" x="17"/><use href="#u5230" x="34"/><use href="#u90d1" x="51"/><use href="#u5dde" x="68"/></g>
<g transform="translate(648 77)"><use href="#u5e7f"/><use href="#u5dde" x="17"/><use href="#u5230" x="34"/><use href="#u73e0" x="51"/><use href="#u6d77" x="68"/></g>
<g transform="translate(648 115)"><use href="#u5e7f"/><use href="#u5dde" x="17"/><use href="#u5230" x="34"/><use href="#u90d1" x="51"/><use href="#u5dde" x="68"/></g>
<g transform="translate(650 150)"><use href="#u5e7f"/><use href="#u5dde" x="17"/><use href="#u5230" x="34"/><use href="#u73e0" x="51"/><use href="#u6d77" x="68"/></g>
<g transform="translate(650 189)"><use href="#u5e7f"/><use href="#u5dde" x="17"/><use href="#u5230" x="34"/><use href="#u90d1" x="51"/><use href="#u5dde" x="68"/></g>
<g transform="translate(650 215)"><use href="#u5e7f"/><use href="#u5dde" x="17"/><use href="#u5230" x="34"/><use href="#u73e0" x="51"/><use href="#u6d77" x="68"/></g>
<g transform="translate(650 234)"><use href="#u5e7f"/><use href="#u5dde" x="17"/><use href="#u5230" x="34"/><use href="#u90d1" x="51"/><use href="#u5dde" x="68"/></g>
<g transform="translate(651 260)"><use href="#u5e7f"/><use href="#u5dde" x="17"/><use href="#u5230" x="34"/><use href="#u73e0" x="51"/><use href="#u6d77" x="68"/></g>
<g transform="translate(651 283)"><use href="#u5e7f"/><use href="#u5dde" x="17"/><use href="#u5230" x="34"/><use href="#u90d1" x="51"/><use href="#u5dde" x="68"/></g>
<g transform="translate(651 309)"><use href="#u5e7f"/><use href="#u5dde" x="17"/><use href="#u5230" x="34"/><use href="#u73e0" x="51"/><use href="#u6d77" x="68"/></g>
<g transform="translate(651 332)"><use href="#u5e7f"/><use href="#u5dde" x="17"/><use href="#u5230" x="34"/><use href="#u90d1" x="51"/><use href="#u5dde" x="68"/></g>
<g transform="translate(651 357)"><use href="#u90d1"/><use href="#u5dde" x="17"/><use href="#u5230" x="34"/><use href="#u5e7f" x="51"/><use href="#u5dde" x="68"/></g>
<g transform="translate(651 380)"><use href="#u90d1"/><use href="#u5dde" x="17"/><use href="#u5230" x="34"/><use href="#u5317" x="51"/><use href="#u4eac" x="68"/></g>
<g transform="translate(651 404)"><use href="#u90d1"/><use href="#u5dde" x="17"/><use href="#u5230" x="34"/><use href="#u5e7f" x="51"/><use href="#u5dde" x="68"/></g>
<g transform="translate(652 428)"><use href="#u90d1"/><use href="#u5dde" x="17"/><use href="#u5230" x="34"/><use href="#u5317" x="51"/><use href="#u4eac" x="68"/></g>
<g transform="translate(652 452)"><use href="#u90d1"/><use href="#u5dde" x="17"/><use href="#u5230" x="34"/><use href="#u5e7f" x="51"/><use href="#u5dde" x="68"/></g>
<g transform="translate(652 475)"><use href="#u90d1"/><use href="#u5dde" x="17"/><use href="#u5230" x="34"/><use href="#u5317" x="51"/><use href="#u4eac" x="68"/></g>
<g transform="translate(652 498)"><use href="#u90d1"/><use href="#u5dde" x="17"/><use href="#u5230" x="34"/><use href="#u5e7f" x="51"/><use href="#u5dde" x="68"/></g>
<g transform="translate(652 521)"><use href="#u90d1"/><use href="#u5dde" x="17"/><use href="#u5230" x="34"/><use href="#u5317" x="51"/><use href="#u4eac" x="68"/></g>
<g transform="translate(652 546)"><use href="#u90d1"/><use href="#u5dde" x="17"/><use href="#u5230" x="34"/><use href="#u5e7f" x="51"/><use href="#u5dde" x="68"/></g>
<g transform="translate(652 570)"><use href="#u90d1"/><use href="#u5dde" x="17"/><use href="#u5230" x="34"/><use href="#u5317" x="51"/><use href="#u4eac" x="68"/></g>
<g transform="translate(652 596)"><use href="#u90d1"/><use href="#u5dde" x="17"/><use href="#u5230" x="34"/><use href="#u5e7f" x="51"/><use href="#u5dde" x="68"/></g>
<g transform="translate(653 620)"><use href="#u90d1"/><use href="#u5dde" x="17"/><use href="#u5230" x="34"/><use href="#u5317" x="51"/><use href="#u4eac" x="68"/></g>
<g transform="translate(833 -1)"><use href="#u4f18"/><use href="#u8d28" x="17"/><use href="#u5ba2" x="34"/><use href="#u6237" x="51"/></g>
<g transform="translate(833 23)"><use href="#u4e00"/><use href="#u822c" x="17"/><use href="#u5ba2" x="34"/><use href="#u6237" x="51"/></g>
<g transform="translate(833 46)"><use href="#u4e00"/><use href="#u822c" x="17"/><use href="#u5ba2" x="34"/><use href="#u6237" x="51"/></g>
<g transform="translate(833 70)"><use href="#u4f18"/><use href="#u8d28" x="17"/><use href="#u5ba2" x="34"/><use href="#u6237" x="51"/></g>
<g transform="translate(833 94)"><use href="#u4e00"/><use href="#u822c" x="17"/><use href="#u5ba2" x="34"/><use href="#u6237" x="51"/></g>
<g transform="translate(833 118)"><use href="#u4e00"/><use href="#u822c" x="17"/><use href="#u5ba2" x="34"/><use href="#u6237" x="51"/></g>
<g transform="translate(833 141)"><use href="#u4f18"/><use href="#u8d28" x="17"/><use href="#u5ba2" x="34"/><use href="#u6237" x="51"/></g>
<g transform="translate(833 165)"><use href="#u4e00"/><use href="#u822c" x="17"/><use href="#u5ba2" x="34"/><use href="#u6237" x="51"/></g>
<g transform="translate(833 189)"><use href="#u4e00"/><use href="#u822c" x="17"/><use href="#u5ba2" x="34"/><use href="#u6237" x="51"/></g>
<g transform="translate(833 213)"><use href="#u4e00"/><use href="#u822c" x="17"/><use href="#u5ba2" x="34"/><use href="#u6237" x="51"/></g>
<g transform="translate(833 236)"><use href="#u4e00"/><use href="#u822c" x="17"/><use href="#u5ba2" x="34"/><use href="#u6237" x="51"/></g>
<g transform="translate(833 260)"><use href="#u4e00"/><use href="#u822c" x="17"/><use href="#u5ba2" x="34"/><use href="#u6237" x="51"/></g>
<g transform="translate(833 284)"><use href="#u4e00"/><use href="#u822c" x="17"/><use href="#u5ba2" x="34"/><use href="#u6237" x="51"/></g>
<g transform="translate(833 308)"><use href="#u4e00"/><use href="#u822c" x="17"/><use href="#u5ba2" x="34"/><use href="#u6237" x="51"/></g>
<g transform="translate(833 331)"><use href="#u4e00"/><use href="#u822c" x="17"/><use href="#u5ba2" x="34"/><use href="#u6237" x="51"/></g>
<g transform="translate(833 355)"><use href="#u4e00"/><use href="#u822c" x="17"/><use href="#u5ba2" x="34"/><use href="#u6237" x="51"/></g>
<g transform="translate(833 379)"><use href="#u4e00"/><use href="#u822c" x="17"/><use href="#u5ba2" x="34"/><use href="#u6237" x="51"/></g>
<g transform="translate(833 403)"><use href="#u4e00"/><use href="#u822c" x="17"/><use href="#u5ba2" x="34"/><use href="#u6237" x="51"/></g>
<g transform="translate(833 426)"><use href="#u4e00"/><use href="#u822c" x="17"/><use href="#u5ba2" x="34"/><use href="#u6237" x="51"/></g>
<g transform="translate(833 450)"><use href="#u4e00"/><use href="#u822c" x="17"/><use href="#u5ba2" x="34"/><use href="#u6237" x="51"/></g>
<g transform="translate(833 474)"><use href="#u4e00"/><use href="#u822c" x="17"/><use href="#u5ba2" x="34"/><use href="#u6237" x="51"/></g>
<g transform="translate(833 498)"><use href="#u4e00"/><use href="#u822c" x="17"/><use href="#u5ba2" x="34"/><use href="#u6237" x="51"/></g>
<g transform="translate(833 522)"><use href="#u4e00"/><use href="#u822c" x="17"/><use href="#u5ba2" x="34"/><use href="#u6237" x="51"/></g>
<g transform="translate(833 546)"><use href="#u4e00"/><use href="#u822c" x="17"/><use href="#u5ba2" x="34"/><use href="#u6237" x="51"/></g>
<g transform="translate(833 569)"><use href="#u4e00"/><use href="#u822c" x="17"/><use href="#u5ba2" x="34"/><use href="#u6237" x="51"/></g>
<g transform="translate(833 593)"><use href="#u4e00"/><use href="#u822c" x="17"/><use href="#u5ba2" x="34"/><use href="#u6237" x="51"/></g>
<g transform="translate(833 617)"><use href="#u4e00"/><use href="#u822c" x="17"/><use href="#u5ba2" x="34"/><use href="#u6237" x="51"/></g>
</g>
</svg></body></html>
